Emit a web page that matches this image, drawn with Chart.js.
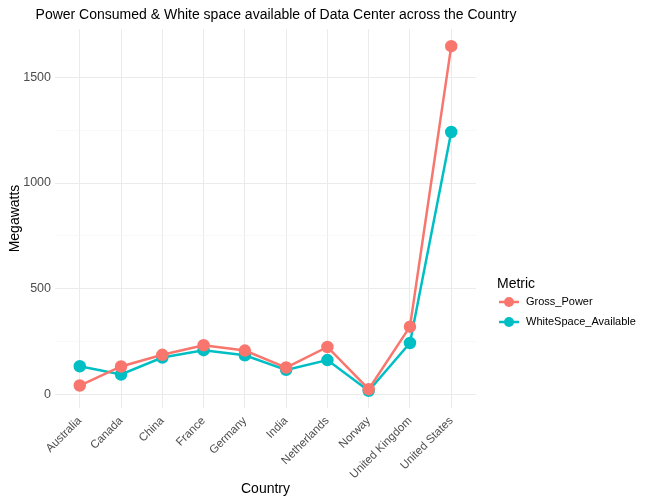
<!DOCTYPE html>
<html>
<head>
<meta charset="utf-8">
<script src="https://cdn.jsdelivr.net/npm/chart.js@4"></script>
<style>
	html, body { margin: 0; padding: 0; background: #fff; }
	#wrap { width: 653px; height: 503px; position: relative; }
</style>
</head>
<body>
<div id="wrap"><canvas id="power-chart"></canvas></div>
<script>
const countries = ['Australia', 'Canada', 'China', 'France', 'Germany', 'India', 'Netherlands', 'Norway', 'United Kingdom', 'United States'];
const grossPower = [44, 134, 189, 234, 209, 129, 226, 27, 322, 1646];
const whiteSpace = [135, 96, 176, 211, 187, 118, 164, 19, 245, 1241];
const yTicks = [0, 250, 500, 750, 1000, 1250, 1500];
const seriesNames = ['Gross_Power', 'WhiteSpace_Available'];
const seriesColors = ['#F8766D', '#00BFC4'];

const font = "'Liberation Sans', Arial, sans-serif";

// title, axis titles and the ggplot style legend drawn by hand
const decor = {
	id: 'decor',
	afterDraw(chart) {
		const ctx = chart.ctx;
		const area = chart.chartArea;
		ctx.save();
		ctx.fillStyle = '#000';
		ctx.textBaseline = 'middle';
		ctx.textAlign = 'center';
		ctx.font = '14px ' + font;
		ctx.fillText('Power Consumed & White space available of Data Center across the Country', 276, 15);
		ctx.fillText('Country', (area.left + area.right) / 2, 489);
		ctx.save();
		ctx.translate(15, (area.top + area.bottom) / 2);
		ctx.rotate(-Math.PI / 2);
		ctx.fillText('Megawatts', 0, 0);
		ctx.restore();

		ctx.textAlign = 'left';
		ctx.fillText('Metric', 497, 284);
		ctx.font = '11px ' + font;
		seriesNames.forEach((name, i) => {
			const y = 302 + i * 20;
			ctx.strokeStyle = seriesColors[i];
			ctx.lineWidth = 2.5;
			ctx.beginPath();
			ctx.moveTo(499, y);
			ctx.lineTo(519, y);
			ctx.stroke();
			ctx.fillStyle = seriesColors[i];
			ctx.beginPath();
			ctx.arc(509, y, 5, 0, Math.PI * 2);
			ctx.fill();
			ctx.fillStyle = '#000';
			ctx.fillText(name, 526, y);
		});
		ctx.restore();
	}
};

new Chart(
	document.getElementById('power-chart'),
	{
		type: 'line',
		data: {
			datasets: [
				{
					label: seriesNames[0],
					data: grossPower.map((v, i) => ({ x: i, y: v })),
					borderColor: seriesColors[0],
					backgroundColor: seriesColors[0],
					borderWidth: 2.5,
					pointRadius: 5,
					pointHoverRadius: 5,
					tension: 0
				},
				{
					label: seriesNames[1],
					data: whiteSpace.map((v, i) => ({ x: i, y: v })),
					borderColor: seriesColors[1],
					backgroundColor: seriesColors[1],
					borderWidth: 2.5,
					pointRadius: 5,
					pointHoverRadius: 5,
					tension: 0
				}
			]
		},
		options: {
			responsive: true,
			maintainAspectRatio: false,
			animation: false,
			layout: { padding: { top: 29, right: 177, left: 0, bottom: 0 } },
			plugins: {
				legend: { display: false },
				tooltip: { enabled: false }
			},
			scales: {
				x: {
					type: 'linear',
					min: -0.6,
					max: 9.6,
					border: { display: false },
					grid: { color: '#ebebeb', lineWidth: 1, drawTicks: false },
					ticks: {
						autoSkip: false,
						maxRotation: 45,
						minRotation: 45,
						padding: 6,
						color: '#4d4d4d',
						font: { family: font, size: 11.5 },
						callback: v => countries[v]
					},
					afterBuildTicks(scale) {
						scale.ticks = countries.map((c, i) => ({ value: i }));
					},
					afterFit(scale) { scale.height = 95; }
				},
				y: {
					min: -62,
					max: 1727,
					border: { display: false },
					grid: {
						drawTicks: false,
						color: ctx => (ctx.tick && ctx.tick.value % 500 === 0) ? '#ebebeb' : '#f4f4f4',
						lineWidth: ctx => (ctx.tick && ctx.tick.value % 500 === 0) ? 1 : 0.6
					},
					ticks: {
						padding: 4,
						color: '#4d4d4d',
						font: { family: font, size: 12.5 },
						callback: v => (v % 500 === 0 ? String(v) : '')
					},
					afterBuildTicks(scale) {
						scale.ticks = yTicks.map(v => ({ value: v }));
					},
					afterFit(scale) { scale.width = 55; }
				}
			}
		},
		plugins: [decor]
	}
);
</script>
</body>
</html>
